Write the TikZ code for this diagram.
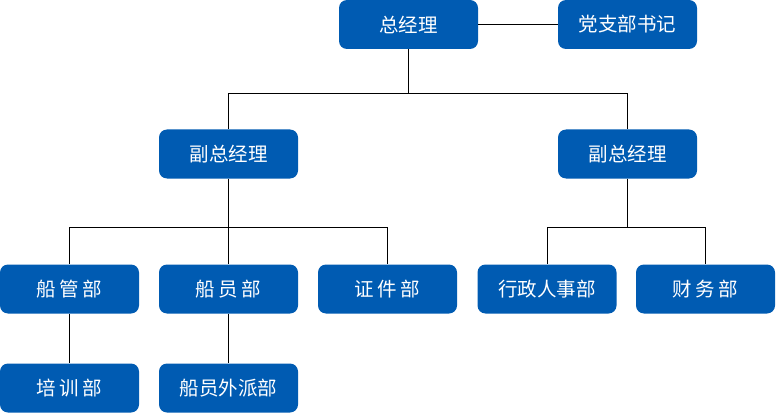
\documentclass[tikz,border=0pt]{standalone}
\usepackage{fontspec}
\newfontfamily\cjk{Noto Sans CJK SC}
\usetikzlibrary{positioning,calc}
\definecolor{orgblue}{HTML}{005BB2}
\newcommand{\chgap}{\hspace{3.5pt}}

\begin{document}
\begin{tikzpicture}[x=1pt,y=1pt,
  unit/.style={fill=orgblue,text=white,rounded corners=8pt,minimum width=139pt,
    minimum height=49pt,inner sep=0pt,font=\cjk\fontsize{19.5pt}{22pt}\selectfont},
  link/.style={black,line width=0.8pt}]
\useasboundingbox (0,0) rectangle (776,413);
% top level
\node[unit] (gm) at (408.5,388.5) {总经理};
\node[unit] (party) at (627.5,388.5) {党支部书记};
% deputies
\node[unit] (vgmL) at (228.5,259) {副总经理};
\node[unit] (vgmR) at (627.5,259) {副总经理};
% departments
\node[unit] (ship) at (69.5,124) {船\chgap 管\chgap 部};
\node[unit] (crew) at (228.5,124) {船\chgap 员\chgap 部};
\node[unit] (cert) at (387.5,124) {证\chgap 件\chgap 部};
\node[unit] (admin) at (547,124) {行政人事部};
\node[unit] (fin) at (705.5,124) {财\chgap 务\chgap 部};
% sub departments
\node[unit] (train) at (69.5,25) {培\chgap 训\chgap 部};
\node[unit] (dispatch) at (228.5,25) {船员外派部};
% connectors
\draw[link] (gm) -- (party);
\draw[link] (gm.south) |- (408.5,320) coordinate (busA);
\foreach \n in {vgmL,vgmR}
  \draw[link] (busA) -| (\n.north);
\coordinate (busB) at (228.5,186);
\draw[link] (vgmL.south) -- (busB);
\foreach \n in {ship,crew,cert}
  \draw[link] (busB) -| (\n.north);
\coordinate (busC) at (627.5,186);
\draw[link] (vgmR.south) -- (busC);
\foreach \n in {admin,fin}
  \draw[link] (busC) -| (\n.north);
\draw[link] (ship) -- (train);
\draw[link] (crew) -- (dispatch);
\end{tikzpicture}
\end{document}
